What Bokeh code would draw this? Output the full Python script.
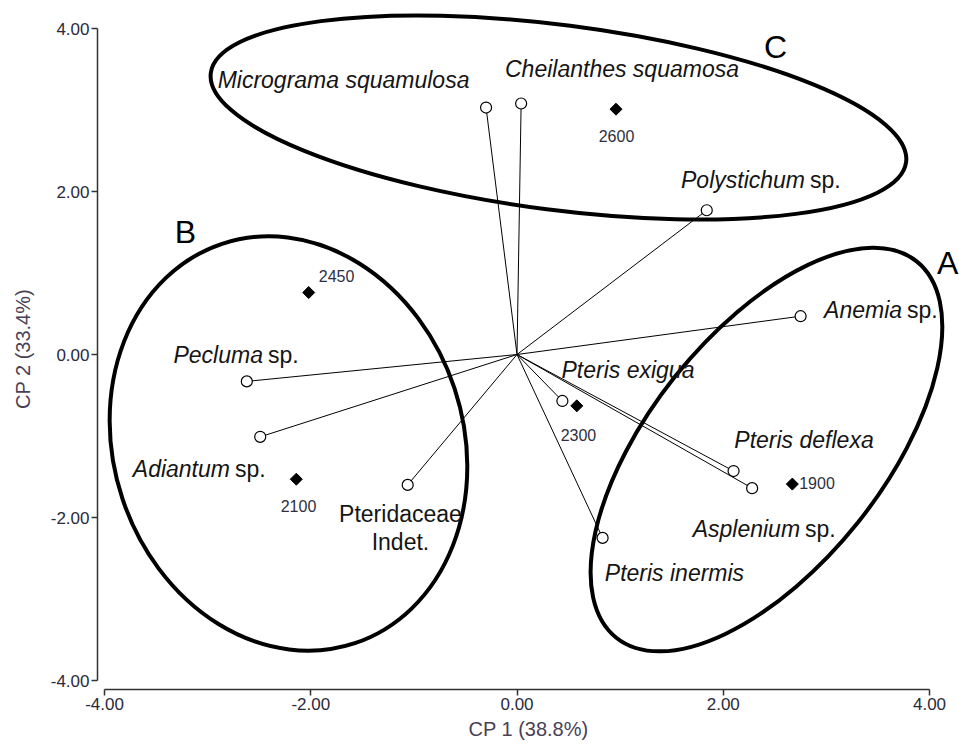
import math
from bokeh.plotting import figure
from bokeh.models import FixedTicker, PrintfTickFormatter
from bokeh.core.properties import value
from bokeh.embed import file_html
from bokeh.resources import INLINE

# ---------------- data ----------------
species = ["Micrograma squamulosa", "Cheilanthes squamosa", "Polystichum sp.",
           "Anemia sp.", "Pteris exigua", "Pteris deflexa", "Asplenium sp.",
           "Pteris inermis", "Pteridaceae Indet.", "Pecluma sp.", "Adiantum sp."]
species_cp1 = [-0.30, 0.04, 1.84, 2.75, 0.44, 2.10, 2.28, 0.83, -1.06, -2.62, -2.49]
species_cp2 = [3.03, 3.08, 1.77, 0.47, -0.57, -1.43, -1.64, -2.25, -1.60, -0.33, -1.01]
species_label_x = [-1.682, 1.018, 2.812, 3.753, 1.076, 2.783, 2.764, 1.527, -1.130, -2.444, -2.764]
species_label_y = [3.374, 3.509, 2.135, 0.540, -0.196, -1.043, -2.135, -2.675, -2.129, 0.0, -1.399]

sites = ["2600", "2450", "2100", "2300", "1900"]
site_cp1 = [0.96, -2.02, -2.14, 0.58, 2.67]
site_cp2 = [3.01, 0.76, -1.53, -0.63, -1.59]
site_label_x = [0.965, -1.750, -2.119, 0.596, 2.909]
site_label_y = [2.687, 0.969, -1.865, -0.982, -1.571]

groups = ["A", "B", "C"]
group_label_x = [4.175, -3.215, 2.507]
group_label_y = [1.117, 1.509, 3.779]
group_center_x = [2.419, -2.216, 0.402]
group_center_y = [-1.166, -1.092, 2.908]
group_ellipse_w = [234, 350, 701]
group_ellipse_h = [482, 421, 185]
group_ellipse_deg = [-38.6, 18.4, -7.3]

x_ticks = [-4, -2, 0, 2, 4]
y_ticks = [-4, -2, 0, 2, 4]
x_title = "CP 1 (38.8%)"
y_title = "CP 2 (33.4%)"

FONT = "Liberation Sans"

# ---------------- figure ----------------
p = figure(width=959, height=744,
           x_range=(-4.0679, 4.2909), y_range=(-4.1104, 4.2454),
           output_backend="svg", toolbar_location=None,
           min_border_left=97, min_border_right=0,
           min_border_top=8, min_border_bottom=55)
p.outline_line_color = None
p.xgrid.visible = False
p.ygrid.visible = False
p.background_fill_color = "white"
p.border_fill_color = "white"

for ax, ticks in ((p.xaxis, x_ticks), (p.yaxis, y_ticks)):
    ax.ticker = FixedTicker(ticks=ticks)
    ax.formatter = PrintfTickFormatter(format="%.2f")
    ax.bounds = (-4, 4)
    ax.minor_tick_line_color = None
    ax.major_tick_in = 0
    ax.major_tick_out = 6
    ax.major_tick_line_color = "#333333"
    ax.major_tick_line_width = 1.5
    ax.axis_line_color = "#333333"
    ax.axis_line_width = 1.5
    ax.major_label_text_font = FONT
    ax.major_label_text_font_size = "17px"
    ax.major_label_text_color = "#2a2a3a"
    ax.major_label_standoff = 2
    ax.axis_label_text_font = FONT
    ax.axis_label_text_font_size = "20px"
    ax.axis_label_text_font_style = "normal"
    ax.axis_label_text_color = "#4a3f55"

p.xaxis.axis_label = x_title
p.xaxis.axis_label_standoff = 5
p.yaxis.axis_label = y_title
p.yaxis.axis_label_standoff = 14

# group ellipses
p.ellipse(x=group_center_x, y=group_center_y,
          width=group_ellipse_w, height=group_ellipse_h,
          angle=[math.radians(a) for a in group_ellipse_deg],
          width_units="screen", height_units="screen",
          fill_color=None, line_color="black", line_width=4)

# vectors
p.segment(x0=[0] * len(species), y0=[0] * len(species),
          x1=species_cp1, y1=species_cp2, line_color="black", line_width=1)

# species points
p.scatter(species_cp1, species_cp2, marker="circle", size=11,
          fill_color="white", line_color="black", line_width=1.2)

# site points
p.scatter(site_cp1, site_cp2, marker="square", angle=math.pi / 4, size=8.5,
          fill_color="black", line_color="black")

# species labels
ital_t, ital_x, ital_y = [], [], []
gen_t, gen_x, gen_y = [], [], []
pl_t, pl_x, pl_y = [], [], []
for name, lx, ly in zip(species, species_label_x, species_label_y):
    if name.endswith(" sp."):
        gen_t.append(name[:-4]); gen_x.append(lx); gen_y.append(ly)
    elif "Indet." in name:
        pl_t.append(name.replace(" ", "\n")); pl_x.append(lx); pl_y.append(ly)
    else:
        ital_t.append(name); ital_x.append(lx); ital_y.append(ly)

common = dict(text_font=value(FONT), text_font_size="23px",
              text_color="#151515", text_baseline="middle")
p.text(x=ital_x, y=ital_y, text=ital_t, text_align="center",
       text_font_style="italic", **common)
p.text(x=gen_x, y=gen_y, text=gen_t, text_align="right", x_offset=-2,
       text_font_style="italic", **common)
p.text(x=gen_x, y=gen_y, text=["sp."] * len(gen_t), text_align="left",
       x_offset=3, text_font_style="normal", **common)
p.text(x=pl_x, y=pl_y, text=pl_t, text_align="center",
       text_font_style="normal", text_line_height=1.1, **common)

# site labels
p.text(x=site_label_x, y=site_label_y, text=sites, text_align="center",
       text_baseline="middle", text_font=value(FONT), text_font_size="16px",
       text_color="#2f2f3f")

# group letters
p.text(x=group_label_x, y=group_label_y, text=groups, text_align="center",
       text_baseline="middle", text_font=value(FONT), text_font_size="32px",
       text_color="black")

open("out.html", "w").write(file_html(p, INLINE))
